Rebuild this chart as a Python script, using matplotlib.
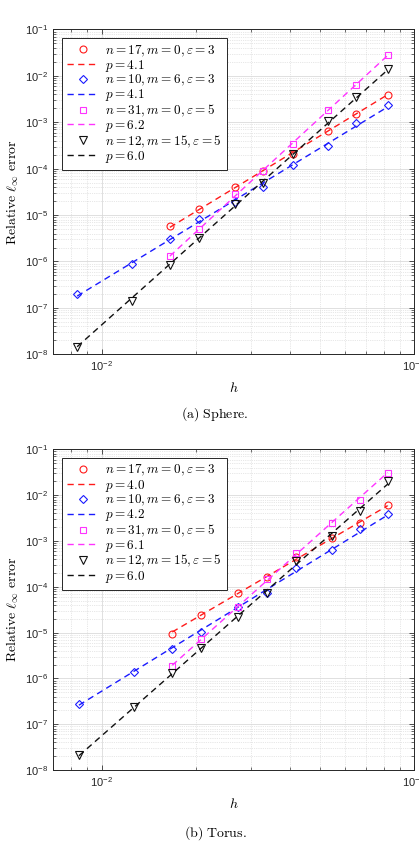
import numpy as np
import matplotlib.pyplot as plt
from matplotlib.ticker import LogLocator, NullFormatter

plt.rcParams['mathtext.fontset'] = 'cm'
plt.rcParams['font.family'] = ['Liberation Sans', 'DejaVu Sans']

# mesh spacing h
h_sphere = [0.00835, 0.01247, 0.01654, 0.02053, 0.02672, 0.03293, 0.04089, 0.05317, 0.06521, 0.08237]
h_torus = [0.00846, 0.01272, 0.01683, 0.0208, 0.02725, 0.03375, 0.0418, 0.05451, 0.0671, 0.0824]

# sphere errors
sph_red = [5.8e-6, 1.33e-5, 4.07e-5, 9.0e-5, 2.06e-4, 6.5e-4, 1.5e-3, 3.85e-3]
sph_blue = [2.0e-7, 8.8e-7, 3.04e-6, 8.3e-6, 1.94e-5, 4.07e-5, 1.19e-4, 3.07e-4, 9.4e-4, 2.34e-3]
sph_mag = [1.31e-6, 4.9e-6, 2.84e-5, 8.9e-5, 3.33e-4, 1.83e-3, 6.5e-3, 2.79e-2]
sph_black = [1.42e-8, 1.43e-7, 8.4e-7, 3.25e-6, 1.73e-5, 4.97e-5, 2.03e-4, 1.06e-3, 3.42e-3, 1.40e-2]
sph_p = [4.1, 4.1, 6.2, 6.0]

# torus errors
tor_red = [9.3e-6, 2.38e-5, 7.2e-5, 1.66e-4, 4.5e-4, 1.14e-3, 2.46e-3, 6.0e-3]
tor_blue = [2.75e-7, 1.40e-6, 4.3e-6, 1.05e-5, 3.55e-5, 7.2e-5, 2.52e-4, 6.3e-4, 1.8e-3, 3.87e-3]
tor_mag = [1.86e-6, 7.2e-6, 3.66e-5, 1.45e-4, 5.6e-4, 2.5e-3, 7.8e-3, 3.0e-2]
tor_black = [2.1e-8, 2.33e-7, 1.29e-6, 4.5e-6, 2.15e-5, 7.5e-5, 3.7e-4, 1.28e-3, 4.5e-3, 2.07e-2]
tor_p = [4.0, 4.2, 6.1, 6.0]

labels = [r'$n=17, m=0, \varepsilon=3$', r'$n=10, m=6, \varepsilon=3$',
          r'$n=31, m=0, \varepsilon=5$', r'$n=12, m=15, \varepsilon=5$']
colors = ['#ff1a1a', '#1a1aff', '#ff33ff', '#111111']
markers = ['o', 'D', 's', 'v']
msizes = [5, 4.3, 4.3, 5.2]


def panel(ax, h, series, pvals):
    handles = []
    for y, p, lab, c, mk, ms in zip(series, pvals, labels, colors, markers, msizes):
        hh = np.array(h[len(h) - len(y):])
        y = np.array(y)
        # fit line with the quoted rate p
        c0 = np.mean(np.log10(y) - p * np.log10(hh))
        fit = 10 ** (c0 + p * np.log10(hh))
        mh, = ax.loglog(hh, y, ls='none', marker=mk, ms=ms, mfc='none', mec=c, mew=0.8, label=lab)
        lh, = ax.loglog(hh, fit, '--', color=c, lw=1.0, dashes=(4.5, 3.2), label=f'$p={p:.1f}$')
        handles += [mh, lh]
    ax.set_xlim(0.00700, 0.1)
    ax.set_ylim(1e-8, 1e-1)
    ax.yaxis.set_major_locator(LogLocator(base=10, numticks=12))
    ax.yaxis.set_minor_locator(LogLocator(base=10, subs=np.arange(2, 10), numticks=12))
    ax.yaxis.set_minor_formatter(NullFormatter())
    ax.grid(True, which='major', color='#dadada', lw=0.6)
    ax.grid(True, which='minor', color='#d0d0d0', lw=0.5, ls=':')
    ax.tick_params(which='both', direction='in', top=True, right=True, colors='#333333',
                   labelsize=8, labelcolor='#262626')
    ax.tick_params(which='major', length=3.5, width=0.6)
    ax.tick_params(which='minor', length=2, width=0.5)
    for s in ax.spines.values():
        s.set_color('#262626')
        s.set_linewidth(0.7)
    ax.set_xlabel(r'$h$', fontsize=10, labelpad=6)
    ax.set_ylabel(r'$\mathrm{Relative}\ \ell_\infty\ \mathrm{error}$', fontsize=10, labelpad=3)
    leg = ax.legend(handles=handles, loc='upper left', fontsize=9.5, labelspacing=-0.06,
                    handlelength=2.4, handletextpad=0.5, borderpad=0.4, borderaxespad=0.65,
                    fancybox=False, framealpha=1, edgecolor='#262626')
    leg.get_frame().set_linewidth(0.7)


fig = plt.figure(figsize=(4.19, 8.55), dpi=100)
ax1 = fig.add_axes([0.127, 0.5856, 0.861, 0.380])
ax2 = fig.add_axes([0.127, 0.0994, 0.861, 0.375])

panel(ax1, h_sphere, [sph_red, sph_blue, sph_mag, sph_black], sph_p)
panel(ax2, h_torus, [tor_red, tor_blue, tor_mag, tor_black], tor_p)

fig.text(215 / 419, 1 - 414 / 855, r'$\mathrm{(a)\ Sphere.}$', ha='center', va='center', fontsize=10)
fig.text(215 / 419, 1 - 833 / 855, r'$\mathrm{(b)\ Torus.}$', ha='center', va='center', fontsize=10)

fig.savefig('out.png', dpi=100)
